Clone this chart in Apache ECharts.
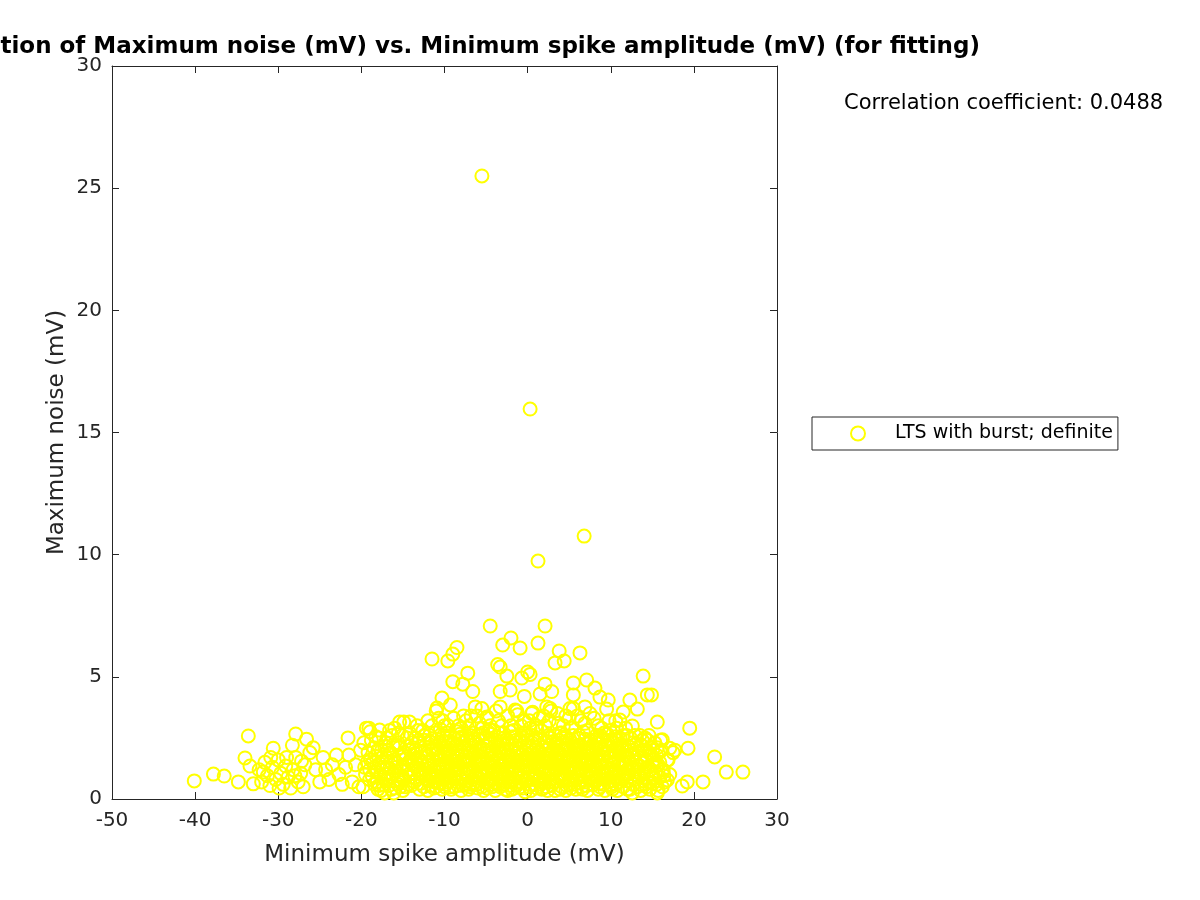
<!DOCTYPE html>
<html>
<head>
<meta charset="utf-8">
<script src="https://cdn.jsdelivr.net/npm/echarts@6/dist/echarts.min.js"></script>
<style>
html,body{margin:0;padding:0;background:#fff;}
#chart{width:1200px;height:900px;}
</style>
</head>
<body>
<div id="chart"></div>
<script>
// Axis ranges and ticks
const xTicks = [-50, -40, -30, -20, -10, 0, 10, 20, 30];
const yTicks = [0, 5, 10, 15, 20, 25, 30];
const seriesName = 'LTS with burst; definite';
const correlationText = 'Correlation coefficient: 0.0488';

// Outliers and upper scatter [Minimum spike amplitude (mV), Maximum noise (mV)]
const upperPoints = [
[-5.5,25.5],[0.3,15.96],[6.8,10.76],[1.25,9.74],[-4.5,7.08],[2.1,7.08],[-2.0,6.59],[-0.9,6.18],
[-3.0,6.3],[-8.5,6.2],[-9.0,5.93],[-11.5,5.73],[-9.6,5.65],[-3.6,5.5],[-3.3,5.4],[6.3,5.98],
[3.8,6.06],[4.4,5.65],[1.25,6.38],[3.3,5.57],[0.0,5.2],[0.3,5.1],[-2.5,5.03],[-0.7,4.95],
[-7.2,5.15],[-9.0,4.8],[-7.8,4.7],[13.9,5.03],[7.1,4.87],[8.1,4.54],[5.5,4.75],[2.1,4.7],
[-2.1,4.46],[-6.6,4.4],[-3.3,4.4],[14.4,4.26],[14.9,4.26],[12.3,4.05],[9.7,4.05],[1.5,4.3],
[-0.4,4.2],[2.9,4.4],[5.5,4.26],[8.7,4.17],[-10.3,4.13],[-9.3,3.85],[-10.9,3.72],[-6.3,3.77],
[-4.9,3.36],[-3.3,3.77],[-5.5,3.7],[11.5,3.56],[13.2,3.68],[9.5,3.68],[11.1,3.23],[12.6,2.99],
[15.6,3.15],[19.5,2.9],[2.3,3.77],[2.7,3.7],[5.1,3.7],[6.9,3.77],[-1.5,3.64],[-1.2,3.45],
[0.6,3.55],[-10.2,3.2],[-12.0,3.2],[-15.4,3.15],[-14.9,3.15],[-14.2,3.15],[-19.1,2.9],[-17.8,2.82]
];

// Far left and far right sparse points
const sidePoints = [
[-40.1,0.74],[-37.8,1.02],[-36.5,0.94],[-34.8,0.7],[-34.0,1.68],[-33.6,2.58],[-33.4,1.35],[-33.0,0.62],
[-32.3,1.2],[-32.0,0.7],[-31.6,1.5],[-31.3,0.95],[-31.0,0.55],[-30.7,1.3],[-30.6,2.08],[-30.3,0.8],
[-30.0,1.6],[-29.7,1.05],[-29.4,0.6],[-29.1,1.35],[-28.8,0.9],[-28.5,0.45],[-28.2,1.2],[-28.3,2.2],
[-27.9,2.66],[-27.9,1.7],[-27.6,0.7],[-27.3,1.05],[-27.0,0.5],[-26.8,1.4],[-26.6,2.45],[-31.8,1.1],
[-30.9,1.7],[-29.9,0.45],[-29.0,1.7],[-28.0,0.95],[-27.2,1.55],[-26.2,1.9],[-25.8,2.1],[-25.5,1.2],
[-25.0,0.7],[-24.6,1.7],[-24.3,1.2],[-23.9,0.8],[-23.5,1.4],[-23.0,1.8],[-22.7,1.0],[-22.3,0.6],
[-21.9,1.3],[-21.6,2.5],[-21.5,1.8],[-21.1,0.7],[-20.7,1.4],[-20.3,0.5],[-20.1,2.0],
[16.9,1.6],[16.8,0.78],[16.3,1.1],[17.1,2.08],[17.7,2.0],[18.6,0.53],[19.2,0.7],[19.3,2.08],
[21.1,0.7],[22.5,1.72],[23.9,1.1],[25.9,1.1],[16.2,2.42],[14.1,2.5],[15.6,0.25],[12.6,0.25],
[-17.2,0.25],[-16.1,0.25]
];

// Dense cloud between about -20 and 17 mV
const densePoints = [
[-19.8,0.5],[-19.6,1.3],[-19.4,2.9],[-19.2,1.9],[-19.0,0.8],[-18.8,2.4],[-18.6,1.5],[-18.4,0.6],
[-18.2,1.1],[-18.0,2.0],[-17.6,0.35],[-17.5,1.7],[-17.3,0.9],[-17.1,2.3],[-16.9,1.3],[-16.7,0.55],
[-16.5,1.9],[-16.3,2.6],[-16.2,1.0],[-16.0,0.45],[-15.9,1.5],[-15.7,2.2],[-15.5,0.8],[-15.2,1.2],
[-15.0,1.8],[-14.7,0.5],[-14.5,2.5],[-14.3,1.0],[-14.0,1.6],[-13.8,2.1],[-13.6,0.7],[-13.4,1.3],
[-13.2,2.8],[-13.0,0.4],[-12.8,1.9],[-12.6,1.1],[-12.4,2.4],[-12.2,0.8],[-11.9,1.5],[-11.7,0.55],
[-11.5,2.0],[-11.3,1.2],[-11.1,2.7],[-11.0,3.6],[-10.9,0.9],[-10.7,1.7],[-10.5,2.3],[-10.3,0.4],
[-10.2,1.4],[-10.0,3.0],[-9.8,2.0],[-9.6,0.7],[-9.5,1.1],[-9.3,2.6],[-9.1,1.6],[-8.9,3.3],
[-8.8,0.5],[-8.6,2.2],[-8.4,1.3],[-8.2,0.9],[-8.0,2.9],[-7.9,1.8],[-7.7,3.4],[-7.5,0.6],
[-7.3,2.4],[-7.1,1.2],[-7.0,3.0],[-6.8,1.9],[-6.6,0.8],[-6.5,2.7],[-6.3,1.5],[-6.1,3.4],
[-6.0,0.45],[-5.8,2.1],[-5.6,1.1],[-5.4,2.9],[-5.2,1.7],[-5.0,0.7],[-4.9,3.3],[-4.7,2.3],
[-4.5,1.3],[-4.3,0.5],[-4.1,2.8],[-4.0,1.8],[-3.8,3.6],[-3.6,0.9],[-3.5,2.2],[-3.3,1.4],
[-3.1,3.0],[-2.9,0.6],[-2.8,2.5],[-2.6,1.6],[-2.4,3.4],[-2.2,1.0],[-2.0,2.0],[-1.9,0.4],
[-1.7,2.8],[-1.5,1.3],[-1.3,3.6],[-1.2,1.9],[-1.0,0.7],[-0.8,2.4],[-0.6,1.5],[-0.4,3.2],
[-0.3,0.3],[-0.1,2.0],[0.1,1.1],[0.3,2.9],[0.5,3.5],[0.6,1.7],[0.8,0.6],[1.0,2.5],
[1.2,1.3],[1.4,3.3],[1.5,0.9],[1.7,2.1],[1.9,1.6],[2.1,3.0],[2.3,0.5],[2.5,2.6],
[2.6,1.2],[2.8,3.6],[3.0,1.9],[3.2,0.7],[3.4,2.3],[3.5,1.4],[3.7,3.1],[3.9,0.4],
[4.1,2.7],[4.3,1.7],[4.4,1.0],[4.6,3.4],[4.8,2.1],[5.0,0.6],[5.2,1.4],[5.3,2.9],
[5.5,3.7],[5.7,1.9],[5.9,0.8],[6.1,2.5],[6.3,1.2],[6.4,3.2],[6.6,0.4],[6.8,2.0],
[7.0,1.5],[7.2,2.8],[7.3,0.9],[7.5,3.5],[7.7,1.8],[7.9,0.6],[8.1,2.4],[8.3,1.3],
[8.5,3.0],[8.7,0.5],[8.8,2.1],[9.0,1.6],[9.2,2.7],[9.4,0.8],[9.6,1.9],[9.8,3.2],
[10.0,1.2],[10.2,0.4],[10.3,2.3],[10.5,1.7],[10.7,2.9],[10.9,0.7],[11.1,1.4],[11.3,2.1],
[11.5,0.5],[11.7,1.0],[11.9,2.6],[12.1,1.7],[12.3,0.4],[12.5,1.3],[12.7,2.3],[12.9,0.8],
[13.1,1.9],[13.3,1.1],[13.5,2.6],[13.7,0.6],[13.9,1.5],[14.1,2.0],[14.3,0.9],[14.5,1.3],
[14.7,0.4],[14.9,1.8],[15.1,1.0],[15.3,2.3],[15.5,0.6],[15.7,1.4],[15.9,0.9],[16.1,2.0],
[16.3,1.2],[16.5,0.7],[16.8,1.6],[17.1,1.0],[17.5,1.9],[16.0,2.4],[15.6,2.1],
[-19.5,1.0],[-18.9,1.6],[-18.1,0.7],[-17.4,1.3],[-16.8,2.0],[-16.1,1.6],[-15.6,0.6],[-15.1,2.6],
[-14.6,1.4],[-14.1,0.9],[-13.5,2.0],[-12.9,1.6],[-12.5,0.5],[-12.1,1.4],[-11.6,2.3],[-11.2,0.7],
[-10.8,1.9],[-10.4,1.1],[-10.1,2.6],[-9.7,1.4],[-9.4,0.5],[-9.0,1.9],[-8.7,1.0],[-8.3,2.5],
[-7.9,0.8],[-7.6,1.5],[-7.2,2.0],[-6.9,0.5],[-6.5,1.2],[-6.2,2.3],[-5.9,1.6],[-5.5,0.5],
[-5.1,2.5],[-4.8,1.0],[-4.4,1.9],[-4.1,0.8],[-3.7,1.6],[-3.4,2.7],[-3.0,1.2],[-2.7,0.4],
[-2.3,2.3],[-2.0,1.4],[-1.6,0.8],[-1.3,2.1],[-0.9,1.2],[-0.5,2.7],[-0.2,0.8],[0.2,1.6],
[0.5,2.3],[0.9,1.0],[1.3,1.9],[1.6,2.8],[2.0,0.8],[2.4,1.5],[2.7,2.2],[3.1,1.0],
[3.5,2.0],[3.8,1.3],[4.2,2.3],[4.5,0.8],[4.9,1.6],[5.3,2.3],[5.6,1.1],[6.0,1.8],
[6.4,2.2],[6.7,1.0],[7.1,1.9],[7.4,1.2],[7.8,2.2],[8.2,1.0],[8.6,1.8],[8.9,1.1],
[9.3,2.2],[9.7,1.2],[10.1,1.8],[10.4,0.9],[10.8,2.1],[11.2,1.3],[11.6,1.8],[12.0,1.0],
[12.4,2.0],[12.8,1.2],[13.2,0.5],[13.6,1.7],[14.0,1.1],[14.4,2.4],[14.8,1.2],[15.2,1.6],
[-19.3,1.5],[-18.5,2.1],[-17.7,1.0],[-17.0,1.7],[-16.4,0.9],[-15.8,1.3],[-15.3,0.5],[-14.8,1.9],
[-14.4,1.2],[-13.9,2.3],[-13.3,0.8],[-12.7,1.5],[-12.3,2.0],[-11.8,1.0],[-11.4,1.6],[-11.0,0.5],
[-10.6,2.2],[-10.2,0.8],[-9.9,1.7],[-9.5,2.3],[-9.2,1.2],[-8.8,1.7],[-8.5,0.7],[-8.1,1.5],
[-7.8,2.3],[-7.4,1.0],[-7.0,1.6],[-6.7,2.2],[-6.4,0.9],[-6.0,1.4],[-5.7,2.6],[-5.3,1.3],
[-5.0,1.9],[-4.6,0.8],[-4.2,1.5],[-3.9,2.4],[-3.5,0.6],[-3.2,1.9],[-2.8,1.0],[-2.5,1.8],
[-2.1,0.7],[-1.8,1.6],[-1.4,2.4],[-1.1,1.0],[-0.7,1.8],[-0.4,1.1],[0.0,2.4],[0.3,0.6],
[0.7,1.4],[1.1,2.1],[1.4,1.2],[1.8,0.7],[2.2,2.0],[2.5,1.0],[2.9,1.6],[3.3,2.6],
[3.6,0.9],[4.0,1.4],[4.4,2.0],[4.7,1.2],[5.1,2.0],[5.4,0.9],[5.8,1.5],[6.2,2.6],
[6.5,1.6],[6.9,0.7],[7.3,1.6],[7.6,2.4],[8.0,1.4],[8.4,0.8],[8.7,1.5],[9.1,0.6],
[9.5,1.5],[9.9,2.4],[10.3,1.4],[10.6,0.6],[11.0,1.6],[11.4,2.2],[11.8,1.4],[12.2,1.1],
[12.6,1.8],[13.0,1.5],[13.4,0.9],[13.8,2.0],[14.2,1.6],[14.6,0.7],[15.0,1.4],[15.4,1.1],
[-9.9,0.6],[-9.1,1.3],[-8.4,1.9],[-7.7,1.1],[-7.0,0.6],[-6.3,1.7],[-5.6,1.0],[-4.9,1.5],
[-4.2,1.1],[-3.5,1.7],[-2.9,1.4],[-2.2,1.7],[-1.5,1.1],[-0.8,1.6],[-0.1,1.4],[0.6,1.9],
[1.3,0.8],[2.0,1.3],[2.7,1.8],[3.4,1.2],[4.1,1.8],[4.8,1.3],[5.5,1.7],[6.2,1.0],
[6.9,1.4],[7.6,0.9],[8.3,1.7],[9.0,1.3],[9.7,0.7],[10.4,1.5],
[-18.3,1.75],[-17.9,0.55],[-17.2,2.15],[-16.6,1.25],[-16.0,2.9],[-15.4,1.75],[-14.9,0.8],[-14.5,2.15],
[-14.0,0.55],[-13.6,1.85],[-13.1,2.4],[-12.6,0.95],[-12.2,1.75],[-11.8,2.6],[-11.3,0.45],[-10.9,1.3],
[-10.5,2.85],[-10.1,1.85],[-9.7,0.95],[-9.3,2.0],[-8.9,0.85],[-8.5,2.75],[-8.1,1.2],[-7.7,2.1],
[-7.3,0.75],[-6.9,2.6],[-6.5,1.8],[-6.1,0.6],[-5.7,1.2],[-5.3,2.05],[-4.9,0.45],[-4.5,2.65],
[-4.1,1.35],[-3.7,2.1],[-3.3,0.5],[-2.9,2.25],[-2.5,1.15],[-2.1,2.75],[-1.7,1.35],[-1.3,0.55],
[-0.9,2.05],[-0.5,1.35],[-0.1,0.75],[0.3,2.1],[0.7,0.95],[1.1,2.9],[1.5,1.5],[1.9,0.45],
[2.3,2.35],[2.7,1.55],[3.1,2.05],[3.5,0.75],[3.9,1.85],[4.3,2.55],[4.7,0.55],[5.1,1.15],
[5.5,2.6],[5.9,1.25],[6.3,1.9],[6.7,2.75],[7.1,0.55],[7.5,1.35],[7.9,2.0],[8.3,2.6],
[8.7,1.0],[9.1,2.0],[9.5,0.95],[9.9,1.75],[10.3,0.75],[10.7,2.45],[11.1,1.05],[11.5,2.6],
[11.9,0.75],[12.3,1.5],[12.7,0.6],[13.1,2.25],[13.5,1.35],[13.9,0.75],[14.3,1.75],[14.7,2.1],
[15.1,0.65],[15.5,1.8],[15.9,1.5],[16.4,0.95],
[-12.9,2.15],[-12.4,1.2],[-11.9,0.75],[-11.4,2.05],[-10.9,2.45],[-10.4,1.6],[-9.9,2.35],[-9.4,1.75],
[-8.9,1.15],[-8.4,0.55],[-7.9,2.55],[-7.4,1.75],[-6.9,1.15],[-6.4,2.45],[-5.9,0.85],[-5.4,1.6],
[-4.9,2.15],[-4.4,0.6],[-3.9,1.2],[-3.4,2.0],[-2.9,2.7],[-2.4,0.85],[-1.9,1.2],[-1.4,1.75],
[-0.9,0.5],[-0.4,2.3],[0.1,1.8],[0.6,2.6],[1.1,0.45],[1.6,1.7],[2.1,1.1],[2.6,0.7],
[3.1,2.35],[3.6,1.65],[4.1,0.5],[4.6,2.55],[5.1,0.8],[5.6,2.05],[6.1,1.5],[6.6,0.75],
[7.1,2.25],[7.6,1.15],[8.1,0.75],[8.6,2.25],[9.1,1.85],[9.6,2.65],[10.1,0.5],[10.6,1.95],
[11.1,2.5],[11.6,1.05],[12.1,2.15],[-15.6,2.3],[-16.6,2.8],[-17.9,2.5],[-14.2,2.7],[-13.3,3.0],
[-12.6,2.8],[-11.5,3.0],[-10.7,3.3],[-9.6,3.0],[-8.3,3.0],[-7.4,3.2],[-6.8,3.4],[-5.8,3.1],
[-4.5,3.0],[-3.5,3.2],[-2.0,3.0],[-0.8,3.0],[0.2,3.2],[1.0,3.0],[1.9,3.4],[2.6,3.2],
[3.6,3.5],[4.3,3.0],[5.0,3.3],[6.0,3.4],[6.9,3.1],[8.0,3.3],[8.9,2.9],[9.9,2.8],
[10.6,3.2],[11.8,2.9],[12.9,2.6],[13.8,2.4],[14.6,2.6],
[-19.0,1.2],[-18.0,0.4],[-17.0,1.0],[-16.4,0.4],[-15.0,0.35],[-14.2,1.55],[-13.2,1.2],[-12.0,0.35],
[-11.0,1.1],[-10.0,0.5],[-9.2,0.4],[-8.6,1.55],[-8.0,0.35],[-7.1,0.4],[-6.2,0.6],[-5.3,0.35],
[-4.7,1.1],[-3.9,0.35],[-3.1,0.85],[-2.4,0.35],[-1.6,0.45],[-0.6,0.45],[0.0,0.9],[0.4,0.35],
[1.0,1.5],[1.7,0.4],[2.4,0.35],[2.9,1.1],[3.3,0.35],[3.9,1.05],[4.6,0.35],[5.2,0.45],
[5.8,0.4],[6.5,0.5],[7.2,0.35],[7.9,1.0],[8.5,0.4],[9.3,0.35],[10.0,0.6],[10.8,0.35],
[11.4,0.8],[12.0,0.4],[12.9,1.0],[13.6,0.35],[14.3,0.5],[15.0,0.9],[15.7,0.35],[16.2,0.5],
[-18.7,0.95],[-18.25,2.55],[-17.8,1.45],[-17.35,0.6],[-16.9,2.5],[-16.45,1.55],[-16.0,1.15],[-15.55,2.7],
[-15.1,0.95],[-14.65,1.65],[-14.2,2.0],[-13.75,1.05],[-13.3,1.7],[-12.85,0.65],[-12.4,2.6],[-11.95,1.25],
[-11.5,0.85],[-11.05,1.85],[-10.6,1.3],[-10.15,2.1],[-9.7,2.7],[-9.25,0.85],[-8.8,2.5],[-8.35,1.4],
[-7.9,1.95],[-7.45,2.6],[-7.0,2.2],[-6.55,0.6],[-6.1,2.0],[-5.65,1.45],[-5.2,0.95],[-4.75,2.75],
[-4.3,1.65],[-3.85,0.65],[-3.4,1.1],[-2.95,1.85],[-2.5,2.45],[-2.05,0.55],[-1.6,2.2],[-1.15,1.55],
[-0.7,2.6],[-0.25,1.7],[0.2,0.5],[0.65,2.15],[1.1,1.65],[1.55,0.6],[2.0,2.3],[2.45,1.8],
[2.9,0.55],[3.35,1.6],[3.8,2.4],[4.25,1.35],[4.7,2.25],[5.15,1.7],[5.6,0.6],[6.05,2.2],
[6.5,1.25],[6.95,2.45],[7.4,1.85],[7.85,0.75],[8.3,2.05],[8.75,2.6],[9.2,1.05],[9.65,2.2],
[10.1,1.1],[10.55,2.55],[11.0,1.9],[11.45,0.95],[11.9,2.0],[12.35,2.5],[12.8,1.7],[13.25,1.35],
[13.7,2.2],[14.15,0.6],[14.6,1.9],[15.05,2.0],[15.5,1.35],[15.95,1.95],
[-12.15,1.85],[-11.75,2.35],[-11.35,0.9],[-10.95,2.05],[-10.55,0.65],[-10.15,1.25],[-9.75,1.95],[-9.35,0.75],
[-8.95,2.3],[-8.55,1.2],[-8.15,2.65],[-7.75,0.55],[-7.35,1.4],[-6.95,1.9],[-6.55,2.35],[-6.15,1.0],
[-5.75,1.75],[-5.35,2.7],[-4.95,1.2],[-4.55,2.4],[-4.15,1.95],[-3.75,1.0],[-3.35,2.35],[-2.95,0.9],
[-2.55,2.05],[-2.15,1.25],[-1.75,2.55],[-1.35,1.5],[-0.95,2.35],[-0.55,0.9],[-0.15,2.6],[0.25,1.35],
[0.65,0.8],[1.05,1.8],[1.45,2.45],[1.85,1.05],[2.25,1.65],[2.65,2.5],[3.05,1.35],[3.45,1.85],
[3.85,2.7],[4.25,0.75],[4.65,1.55],[5.05,2.45],[5.45,1.3],[5.85,2.05],[6.25,0.65],[6.65,1.75],
[7.05,1.15],[7.45,2.05],[7.85,1.6],[8.25,2.3],[8.65,0.65],[9.05,2.45],[9.45,1.25],[9.85,0.55],
[10.25,2.0],[10.65,1.15],[11.05,2.25],[11.45,1.5],[11.85,1.75],
[-19.7,2.3],[-18.95,2.75],[-18.4,1.3],[-17.55,2.0],[-16.75,0.8],[-16.2,2.2],[-15.45,2.1],[-14.95,1.35],
[-14.35,0.6],[-13.85,1.4],[-13.45,2.5],[-13.0,1.05]
];

const allPoints = upperPoints.concat(sidePoints, densePoints);

const chart = echarts.init(document.getElementById('chart'), null, {renderer: 'canvas'});
const axisColor = '#262626';
const font = 'DejaVu Sans';
const yellow = '#ffff00';

function makeX(pos, showLabel, withName) {
  return {
    type: 'value', position: pos, min: xTicks[0], max: xTicks[xTicks.length - 1], interval: 10,
    axisLine: {show: true, onZero: false, lineStyle: {color: axisColor, width: 1}},
    axisTick: {show: true, inside: true, length: 7, lineStyle: {color: axisColor}},
    axisLabel: {show: showLabel, fontSize: 20, color: axisColor, fontFamily: font, margin: 12},
    splitLine: {show: false},
    name: withName ? 'Minimum spike amplitude (mV)' : '',
    nameLocation: 'middle', nameGap: 45,
    nameTextStyle: {fontSize: 23, color: axisColor, fontFamily: font}
  };
}
function makeY(pos, showLabel, withName) {
  return {
    type: 'value', position: pos, min: yTicks[0], max: yTicks[yTicks.length - 1], interval: 5,
    axisLine: {show: true, onZero: false, lineStyle: {color: axisColor, width: 1}},
    axisTick: {show: true, inside: true, length: 7, lineStyle: {color: axisColor}},
    axisLabel: {show: showLabel, fontSize: 20, color: axisColor, fontFamily: font, margin: 10},
    splitLine: {show: false},
    name: withName ? 'Maximum noise (mV)' : '',
    nameLocation: 'middle', nameGap: 43, nameMoveOverlap: false,
    nameTextStyle: {fontSize: 23, color: axisColor, fontFamily: font}
  };
}

chart.setOption({
  backgroundColor: '#ffffff',
  animation: false,
  grid: {left: 112, right: 423, top: 66, bottom: 101, containLabel: false},
  xAxis: [makeX('bottom', true, true), makeX('top', false, false)],
  yAxis: [makeY('left', true, true), makeY('right', false, false)],
  legend: {
    show: true,
    left: 812, top: 417,
    orient: 'vertical',
    backgroundColor: '#ffffff',
    borderColor: axisColor, borderWidth: 1, borderRadius: 0,
    padding: [7, 5, 7, 38],
    itemWidth: 64, itemHeight: 14,
    textStyle: {fontSize: 19, color: '#000', fontFamily: font},
    itemStyle: {color: 'rgba(0,0,0,0)', borderColor: yellow, borderWidth: 2},
    data: [seriesName]
  },
  graphic: [
    {type: 'text', x: 443, y: 47, silent: true,
     style: {text: 'Correlation of Maximum noise (mV) vs. Minimum spike amplitude (mV) (for fitting)',
             font: 'bold 23px "DejaVu Sans"', fill: '#000', align: 'center', verticalAlign: 'middle'}},
    {type: 'text', x: 844, y: 104, silent: true,
     style: {text: correlationText, font: '21px "DejaVu Sans"', fill: '#000', align: 'left', verticalAlign: 'middle'}}
  ],
  series: [{
    name: seriesName,
    type: 'scatter',
    xAxisIndex: 0, yAxisIndex: 0,
    symbol: 'circle',
    symbolSize: 13,
    itemStyle: {color: 'rgba(0,0,0,0)', borderColor: yellow, borderWidth: 2, opacity: 1},
    emphasis: {disabled: true},
    data: allPoints
  }]
});
</script>
</body>
</html>
